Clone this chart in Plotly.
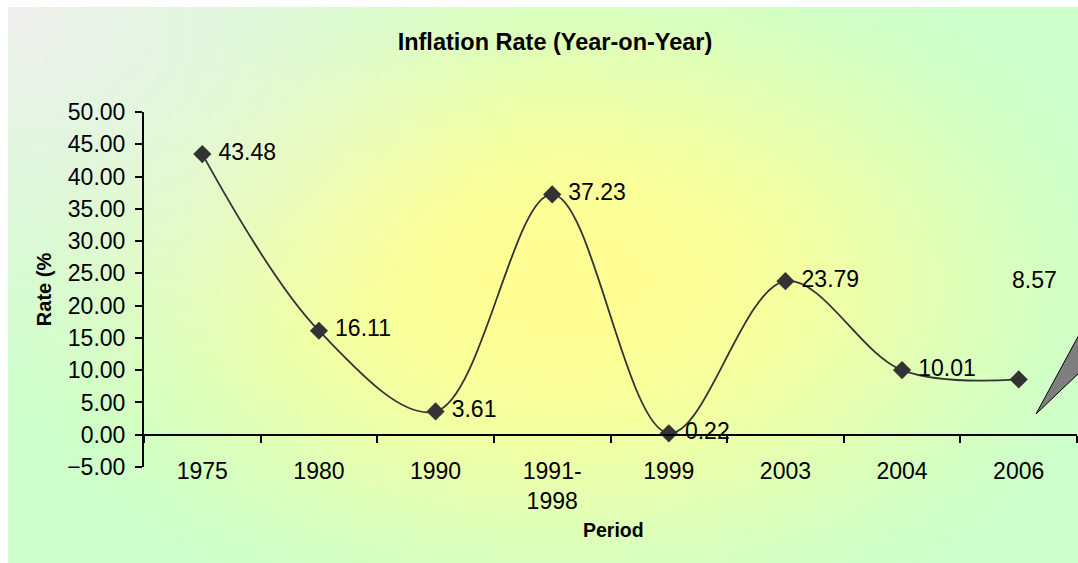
import base64
import math
import struct
import zlib

import plotly.graph_objects as go

periods = ["1975", "1980", "1990", "1991-<br>1998", "1999", "2003", "2004", "2006"]
rates = [43.48, 16.11, 3.61, 37.23, 0.22, 23.79, 10.01, 8.57]
y_ticks = [-5, 0, 5, 10, 15, 20, 25, 30, 35, 40, 45, 50]

W, H = 1078, 563
L, R, T, B = 144, 1, 112, 96
PW, PH = W - L - R, H - T - B

FONT = "Liberation Sans, Arial"


def px_x(px):
    # pixel -> paper x
    return (px - L) / PW


def px_y(py):
    # pixel -> paper y
    return (H - B - py) / PH


def gradient_png(w, h):
    # pale yellow centre fading to light green, whitish top-left corner
    yellow = (255, 255, 150)
    green = (204, 255, 204)
    white = (240, 240, 238)
    rows = []
    for j in range(h):
        row = bytearray()
        for i in range(w):
            u, v = i / (w - 1), j / (h - 1)
            d = math.hypot((u - 0.52) / 0.62, (v - 0.5) / 0.75)
            t = min(max((d - 0.1) / 0.85, 0), 1)
            t = t * t * (3 - 2 * t)
            c = [yellow[k] * (1 - t) + green[k] * t for k in range(3)]
            r = math.hypot(u / 0.5, v / 0.75)
            s = max(0, 1 - r) ** 1.2
            c = [c[k] * (1 - s) + white[k] * s for k in range(3)]
            row += bytes(int(round(x)) for x in c)
        rows.append(b"\x00" + bytes(row))

    def chunk(tag, data):
        return struct.pack(">I", len(data)) + tag + data + struct.pack(">I", zlib.crc32(tag + data) & 0xFFFFFFFF)

    png = b"\x89PNG\r\n\x1a\n"
    png += chunk(b"IHDR", struct.pack(">IIBBBBB", w, h, 8, 2, 0, 0, 0))
    png += chunk(b"IDAT", zlib.compress(b"".join(rows), 9))
    png += chunk(b"IEND", b"")
    return "data:image/png;base64," + base64.b64encode(png).decode()


fig = go.Figure()

fig.add_trace(go.Scatter(
    x=periods, y=rates,
    mode="lines+markers+text",
    line=dict(color="#333333", width=1.8, shape="spline", smoothing=1),
    marker=dict(symbol="diamond", size=14, color="#333333"),
    text=["\u00a0" + f"{v:.2f}" if i < len(rates) - 1 else "" for i, v in enumerate(rates)],
    textposition="middle right",
    textfont=dict(family=FONT, size=23, color="black"),
    showlegend=False, hoverinfo="x+y",
))

# invisible trace so the zero-line axis gets drawn
fig.add_trace(go.Scatter(x=periods, y=rates, mode="none", xaxis="x2",
                         showlegend=False, hoverinfo="skip"))

# callout pointer cut off at the right edge
fig.add_shape(type="path", xref="paper", yref="paper",
              path=f"M {px_x(1036)} {px_y(414)} L {px_x(1080)} {px_y(333)} "
                   f"L {px_x(1080)} {px_y(372)} Z",
              fillcolor="#7f7f7f", line=dict(color="black", width=1))

fig.add_layout_image(dict(
    source=gradient_png(108, 56), xref="paper", yref="paper",
    x=px_x(8), y=px_y(7), sizex=px_x(W) - px_x(8), sizey=px_y(7) - px_y(H),
    xanchor="left", yanchor="top", sizing="stretch", layer="below",
))

font = dict(family=FONT, size=23, color="black")

fig.update_layout(
    width=W, height=H,
    margin=dict(l=L, r=R, t=T, b=B),
    paper_bgcolor="white", plot_bgcolor="rgba(0,0,0,0)",
    font=font,
    title=dict(text="<b>Inflation Rate (Year-on-Year)</b>", x=555 / W, xref="container",
               y=1 - 42 / H, yref="container", yanchor="middle",
               font=dict(family=FONT, size=23.5, color="black")),
    xaxis=dict(type="category", range=[-0.5, 7.5], showline=False, ticks="",
               anchor="free", position=0.034,
               showgrid=False, zeroline=False, tickfont=font),
    xaxis2=dict(type="category", range=[-0.5, 7.5], overlaying="x", anchor="free",
                position=5 / 55, side="bottom", showline=True, linecolor="black",
                linewidth=2, ticks="outside", tickson="boundaries", ticklen=7,
                tickwidth=2, tickcolor="black", showticklabels=False, showgrid=False),
    yaxis=dict(range=[-5, 50], tickvals=y_ticks, tickformat=".2f", showline=True,
               linecolor="black", linewidth=2, ticks="outside", ticklen=7, tickwidth=2,
               tickcolor="black", showgrid=False, zeroline=False, tickfont=font,
               ticklabelstandoff=5,
               title=dict(text="<b>Rate (%</b>", standoff=10,
                          font=dict(family=FONT, size=20, color="black"))),
    annotations=[
        dict(text="<b>Period</b>", xref="paper", yref="paper", x=px_x(613), y=px_y(530),
             xanchor="center", yanchor="middle", showarrow=False,
             font=dict(family=FONT, size=19.5, color="black")),
        # last label sits up and to the right of its marker (category serial number)
        dict(x=len(periods) - 1, y=rates[-1], text=f"{rates[-1]:.2f}", showarrow=False,
             xshift=16, yshift=99, font=dict(family=FONT, size=23, color="black")),
    ],
)

# drop the default page margin so the figure sits at the window's corner
fig.write_html("out.html", config={"displayModeBar": False},
               post_script="document.body.style.margin = '0';")
